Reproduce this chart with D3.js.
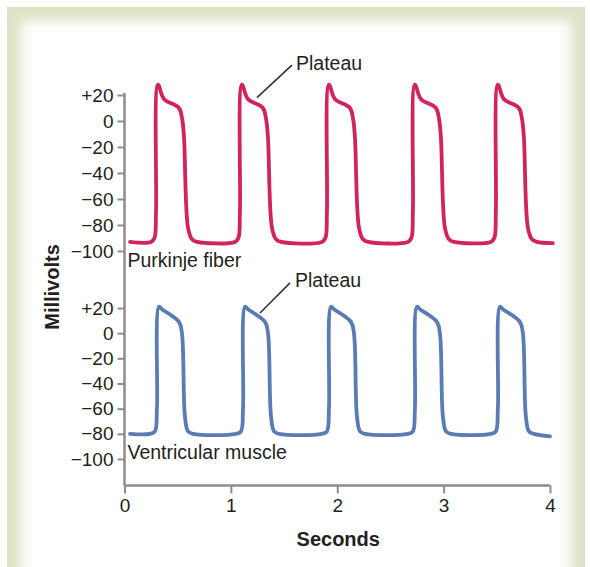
<!DOCTYPE html>
<html>
<head>
<meta charset="utf-8">
<script src="https://cdn.jsdelivr.net/npm/d3@7"></script>
<style>
  body { margin: 0; background: #fff; }
  svg { display: block; font-family: "Liberation Sans", Arial, sans-serif; }
</style>
</head>
<body>
<svg id="chart"></svg>
<script>
// seconds, millivolts
let purkinjeTrace = [
  [0.052, -93],
  [0.249, -93], [0.282, -90], [0.296, -70], [0.315, 28], [0.371, 17], [0.512, 10], [0.541, 2], [0.559, -12], [0.597, -82], [0.635, -91], [0.682, -93],
  [1.038, -93], [1.071, -90], [1.085, -70], [1.104, 28], [1.160, 17], [1.301, 10], [1.330, 2], [1.348, -12], [1.386, -82], [1.424, -91], [1.471, -93],
  [1.856, -93], [1.889, -90], [1.903, -70], [1.922, 28], [1.978, 17], [2.119, 10], [2.148, 2], [2.166, -12], [2.204, -82], [2.242, -91], [2.289, -93],
  [2.664, -93], [2.697, -90], [2.711, -70], [2.730, 28], [2.786, 17], [2.927, 10], [2.956, 2], [2.974, -12], [3.012, -82], [3.050, -91], [3.097, -93],
  [3.444, -93], [3.477, -90], [3.491, -70], [3.510, 28], [3.566, 17], [3.707, 10], [3.736, 2], [3.754, -12], [3.792, -82], [3.830, -91], [3.877, -93],
  [4.027, -94]
]

let ventricularTrace = [
  [0.052, -80],
  [0.239, -80], [0.286, -78], [0.305, -60], [0.324, 21], [0.352, 19], [0.512, 9], [0.540, 0], [0.568, -66], [0.597, -78], [0.644, -80],
  [1.048, -80], [1.095, -78], [1.114, -60], [1.133, 21], [1.161, 19], [1.321, 9], [1.349, 0], [1.377, -66], [1.406, -78], [1.453, -80],
  [1.856, -80], [1.903, -78], [1.922, -60], [1.941, 21], [1.969, 19], [2.129, 9], [2.157, 0], [2.185, -66], [2.214, -78], [2.261, -80],
  [2.664, -80], [2.711, -78], [2.730, -60], [2.749, 21], [2.777, 19], [2.937, 9], [2.965, 0], [2.993, -66], [3.022, -78], [3.069, -80],
  [3.444, -80], [3.491, -78], [3.510, -60], [3.529, 21], [3.557, 19], [3.717, 9], [3.745, 0], [3.773, -66], [3.802, -78], [3.849, -80],
  [4.000, -82]
]

let mvTicks = [20, 0, -20, -40, -60, -80, -100]
let mvTickLabels = ['+20', '0', '\u221220', '\u221240', '\u221260', '\u221280', '\u2212100']
let secTicks = [0, 1, 2, 3, 4]
let secTickLabels = ['0', '1', '2', '3', '4']

// plateau pointers: [t, mV] from -> to, label at
let plateauTop = { from: [1.245, 18], to: [1.574, 43], text: [1.612, 39], label: 'Plateau' }
let plateauBottom = { from: [1.274, 16], to: [1.556, 40], text: [1.603, 36.5], label: 'Plateau' }

let w = 590
let h = 567
let axisColor = '#8c8c8c'
let textColor = '#231f20'

let svg = d3.select('#chart').attr('width', w).attr('height', h)

// frame with soft green edge
let defs = svg.append('defs')
defs.append('filter').attr('id', 'soft')
  .attr('x', '-10%').attr('y', '-10%').attr('width', '120%').attr('height', '120%')
  .append('feGaussianBlur').attr('stdDeviation', 6)

svg.append('rect').attr('width', w).attr('height', h).attr('fill', '#fff')
svg.append('rect').attr('x', 7).attr('y', 7).attr('width', 578).attr('height', 570).attr('fill', '#dce3c5')
svg.append('rect').attr('x', 21).attr('y', 21).attr('width', 550).attr('height', 580)
  .attr('fill', '#fff').attr('filter', 'url(#soft)')

let xScale = d3.scaleLinear().domain([0, 4]).range([124.5, 550])
let yPurk = d3.scaleLinear().domain([-100, 20]).range([251, 95])
let yVent = d3.scaleLinear().domain([-100, 20]).range([459, 308])

let axisY = yVent(-121)

// y axis spine (both panels share one line)
svg.append('line')
  .attr('x1', xScale(0)).attr('x2', xScale(0))
  .attr('y1', yPurk(21.5)).attr('y2', axisY)
  .attr('stroke', axisColor).attr('stroke-width', 2.5)

let styleAxis = (g) => {
  g.select('.domain').remove()
  g.selectAll('.tick line').attr('stroke', axisColor).attr('stroke-width', 2)
  g.selectAll('.tick text').attr('fill', textColor).style('font-size', '19px')
}

let makeY = (scale) => d3.axisLeft(scale)
  .tickValues(mvTicks)
  .tickFormat((d, i) => mvTickLabels[i])
  .tickSize(7)
  .tickPadding(4)

svg.append('g').attr('transform', 'translate(' + xScale(0) + ',0)')
  .call(makeY(yPurk)).call(styleAxis)
svg.append('g').attr('transform', 'translate(' + xScale(0) + ',0)')
  .call(makeY(yVent)).call(styleAxis)

// x axis
svg.append('line')
  .attr('x1', xScale(0)).attr('x2', xScale(4))
  .attr('y1', axisY).attr('y2', axisY)
  .attr('stroke', axisColor).attr('stroke-width', 2.5)

let xAxis = d3.axisBottom(xScale)
  .tickValues(secTicks)
  .tickFormat((d, i) => secTickLabels[i])
  .tickSize(8)
  .tickPadding(5)

svg.append('g').attr('transform', 'translate(0,' + axisY + ')')
  .call(xAxis).call(styleAxis)

// traces
let drawTrace = (data, yScale, color) => {
  let line = d3.line()
    .x((d) => xScale(d[0]))
    .y((d) => yScale(d[1]))
    .curve(d3.curveCatmullRom.alpha(0.5))
  svg.append('path')
    .datum(data)
    .attr('d', line)
    .attr('fill', 'none')
    .attr('stroke', color)
    .attr('stroke-width', 3.8)
    .attr('stroke-linejoin', 'round')
    .attr('stroke-linecap', 'round')
}

drawTrace(purkinjeTrace, yPurk, '#d2235f')
drawTrace(ventricularTrace, yVent, '#5a7cb4')

// plateau pointers
let drawPointer = (a, yScale) => {
  svg.append('line')
    .attr('x1', xScale(a.from[0])).attr('y1', yScale(a.from[1]))
    .attr('x2', xScale(a.to[0])).attr('y2', yScale(a.to[1]))
    .attr('stroke', '#333').attr('stroke-width', 1.6)
  svg.append('text')
    .attr('x', xScale(a.text[0])).attr('y', yScale(a.text[1]))
    .attr('fill', textColor)
    .style('font-size', '19.5px')
    .text(a.label)
}
drawPointer(plateauTop, yPurk)
drawPointer(plateauBottom, yVent)

// panel labels
svg.append('text')
  .attr('x', xScale(0) + 3).attr('y', yPurk(-112))
  .attr('fill', textColor).style('font-size', '19.5px')
  .text('Purkinje fiber')

svg.append('text')
  .attr('x', xScale(0) + 3).attr('y', yVent(-100))
  .attr('fill', textColor).style('font-size', '19.5px')
  .text('Ventricular muscle')

// axis titles
svg.append('text')
  .attr('transform', 'translate(59,287) rotate(-90)')
  .attr('text-anchor', 'middle')
  .attr('fill', textColor)
  .style('font-size', '20px').style('font-weight', 'bold')
  .text('Millivolts')

svg.append('text')
  .attr('x', (xScale(0) + xScale(4)) / 2 + 1).attr('y', 546)
  .attr('text-anchor', 'middle')
  .attr('fill', textColor)
  .style('font-size', '20px').style('font-weight', 'bold')
  .text('Seconds')
</script>
</body>
</html>
